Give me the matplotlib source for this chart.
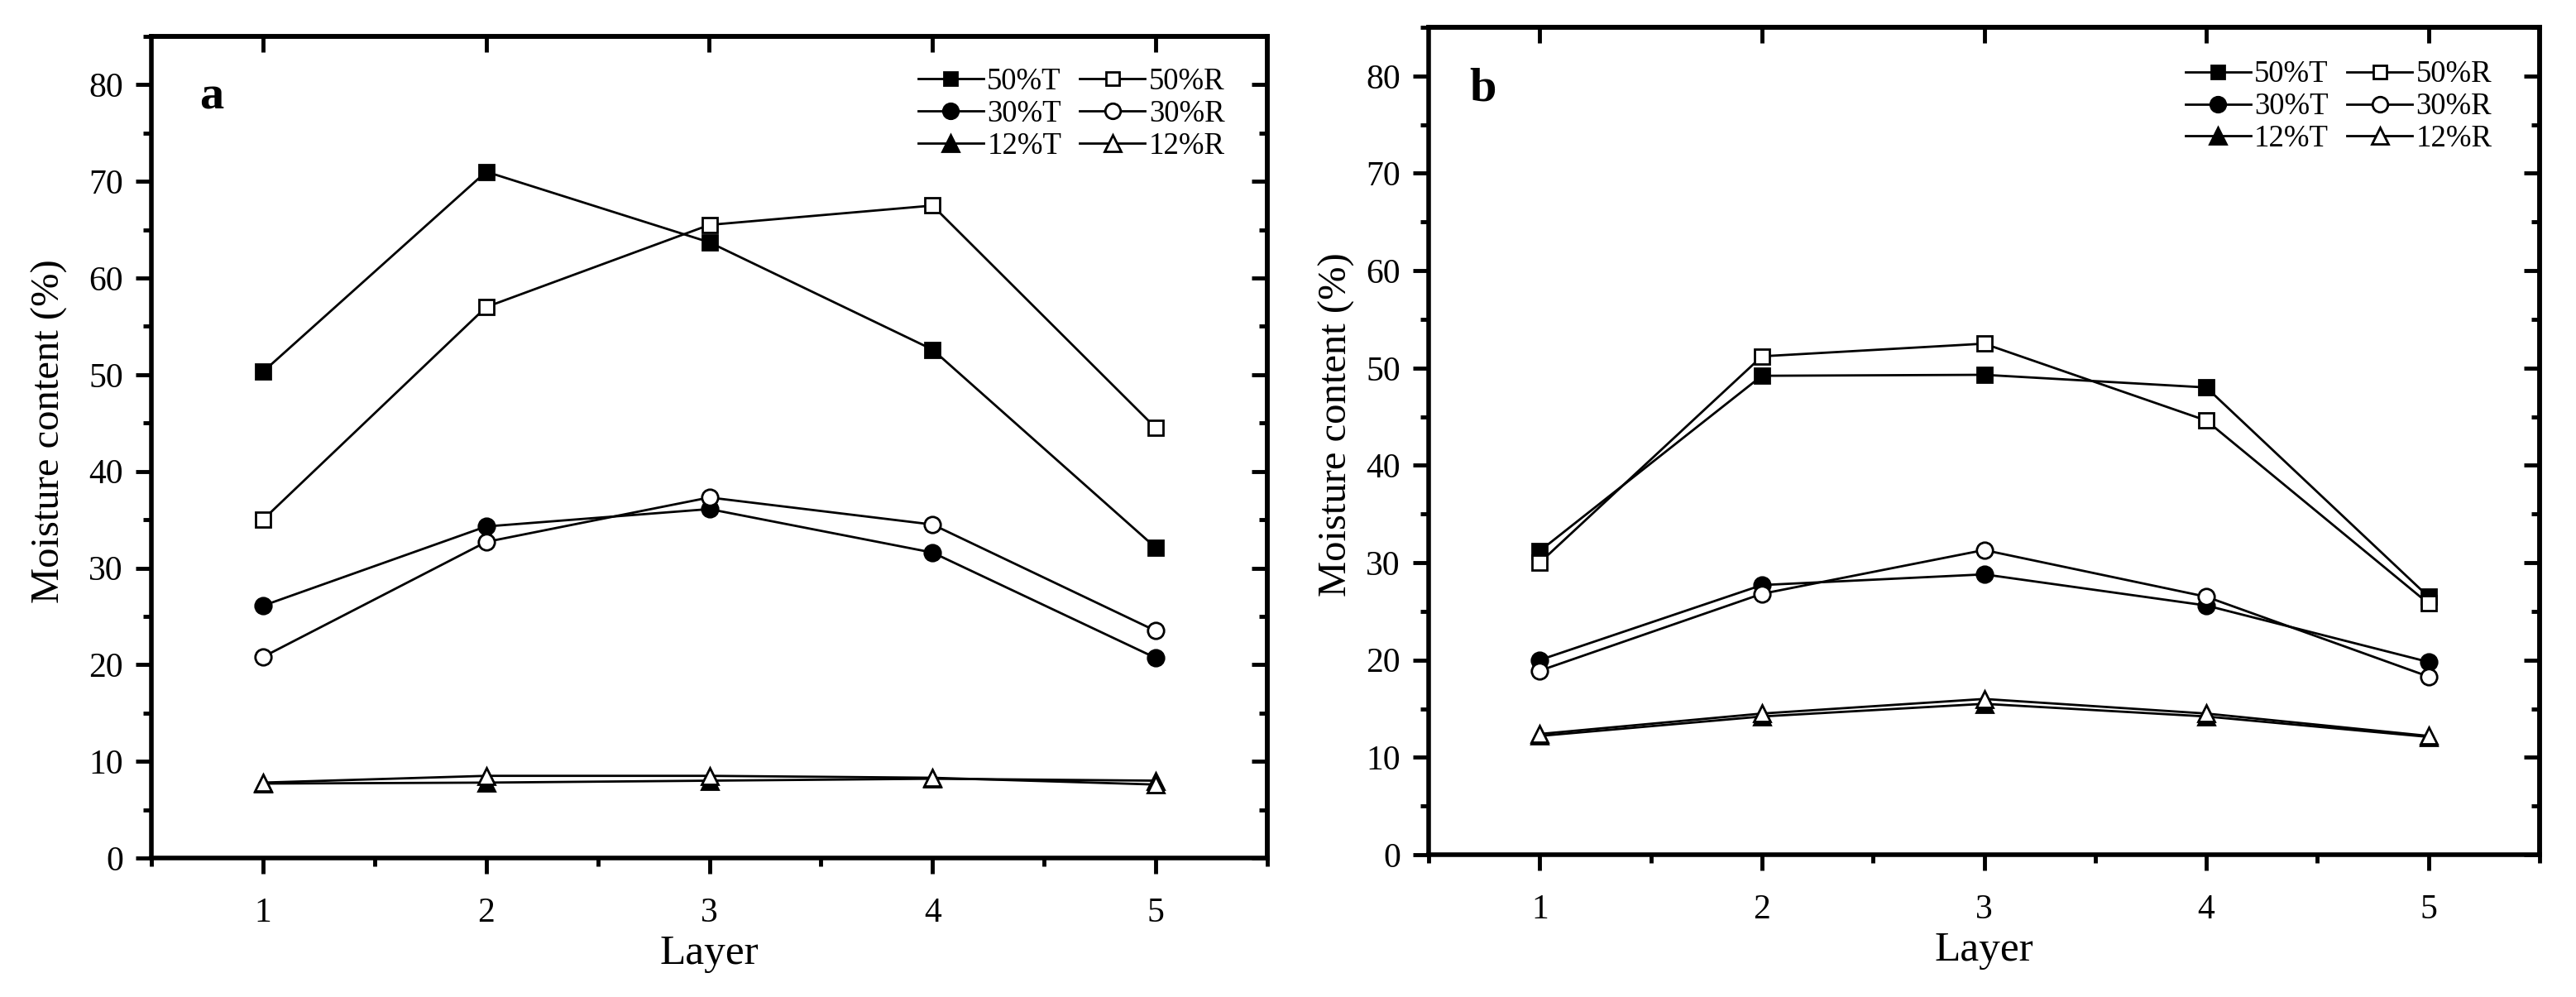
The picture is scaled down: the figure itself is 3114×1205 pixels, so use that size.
import matplotlib
matplotlib.use("Agg")
import matplotlib.pyplot as plt
from matplotlib.ticker import MultipleLocator, NullLocator

plt.rcParams['font.family'] = ['Liberation Serif', 'DejaVu Serif']

layers = [1, 2, 3, 4, 5]

# Panel a
a_50T = [50.3, 71.0, 63.7, 52.6, 32.1]
a_50R = [35.0, 57.0, 65.5, 67.5, 44.5]
a_30T = [26.1, 34.3, 36.1, 31.6, 20.7]
a_30R = [20.8, 32.7, 37.3, 34.5, 23.5]
a_12T = [7.7, 7.8, 8.0, 8.2, 8.0]
a_12R = [7.8, 8.5, 8.5, 8.3, 7.6]

# Panel b
b_50T = [31.2, 49.2, 49.3, 48.0, 26.5]
b_50R = [30.0, 51.2, 52.5, 44.6, 25.8]
b_30T = [20.0, 27.7, 28.8, 25.6, 19.8]
b_30R = [18.9, 26.8, 31.3, 26.5, 18.3]
b_12T = [12.2, 14.2, 15.5, 14.2, 12.1]
b_12R = [12.4, 14.5, 16.0, 14.5, 12.2]

labels_T = ['50%T', '30%T', '12%T']
labels_R = ['50%R', '30%R', '12%R']
markers = ['s', 'o', '^']
msizes = [12.5, 14, 14.5]

W, H = 3114, 1205
fig = plt.figure(figsize=(W / 100, H / 100), dpi=100)

def px_axes(x0, x1, ytop, ybot):
    return fig.add_axes([x0 / W, 1 - ybot / H, (x1 - x0) / W, (ybot - ytop) / H])

ax_a = px_axes(183, 1532, 44, 1037)
ax_b = px_axes(1727, 3070, 33, 1033)

LW = 2.0
MEW = 2.0
SPW = 4.0

def style(ax, letter, letter_x, ylab_x, ylab_y):
    ax.set_xlim(0.5, 5.5)
    ax.set_ylim(0, 85)
    ax.set_xticks(layers)
    ax.set_yticks(range(0, 81, 10))
    ax.xaxis.set_minor_locator(MultipleLocator(0.5))
    ax.yaxis.set_minor_locator(MultipleLocator(5))
    ax.tick_params(axis='both', which='major', direction='out', length=13.5, width=3.5,
                   labelsize=30, top=False, right=False)
    ax.tick_params(axis='both', which='minor', direction='out', length=7, width=3.5,
                   top=False, right=False)
    ax.tick_params(axis='x', which='major', pad=21)
    ax.tick_params(axis='y', which='major', pad=11)
    for s in ax.spines.values():
        s.set_linewidth(SPW)
    sx = ax.secondary_xaxis('top')
    sx.set_xticks(layers)
    sx.xaxis.set_minor_locator(NullLocator())
    sx.tick_params(direction='in', length=13.5, width=3.5, labeltop=False)
    sx.spines['top'].set_linewidth(SPW)
    sy = ax.secondary_yaxis('right')
    sy.set_yticks(range(0, 81, 10))
    sy.yaxis.set_minor_locator(MultipleLocator(5))
    sy.tick_params(which='major', direction='in', length=13.5, width=3.5, labelright=False)
    sy.tick_params(which='minor', direction='in', length=7, width=3.5, labelright=False)
    sy.spines['right'].set_linewidth(SPW)
    ax.set_xlabel('Layer', fontsize=37)
    ax.set_ylabel('Moisture content (%)', fontsize=35)
    ax.xaxis.set_label_coords(0.5, -0.093)
    ax.yaxis.set_label_coords(ylab_x, ylab_y)
    ax.text(letter_x, 78.7, letter, fontsize=42, fontweight='bold',
            ha='center', va='center')

def plot_panel(ax, T, R):
    handles_T, handles_R = [], []
    for vals, lab, m, ms in zip(T, labels_T, markers, msizes):
        h, = ax.plot(layers, vals, color='black', lw=LW, marker=m, ms=ms,
                     mfc='black', mec='black', mew=MEW, label=lab, zorder=3)
        handles_T.append(h)
    for vals, lab, m, ms in zip(R, labels_R, markers, msizes):
        h, = ax.plot(layers, vals, color='black', lw=LW, marker=m, ms=ms,
                     mfc='white', mec='black', mew=MEW, label=lab, zorder=4)
        handles_R.append(h)
    return handles_T + handles_R

hA = plot_panel(ax_a, [a_50T, a_30T, a_12T], [a_50R, a_30R, a_12R])
hB = plot_panel(ax_b, [b_50T, b_30T, b_12T], [b_50R, b_30R, b_12R])

style(ax_a, 'a', 0.77, -0.075, 0.52)
style(ax_b, 'b', 0.745, -0.066, 0.52)

def legend(ax, handles, anchor):
    return ax.legend(handles=handles, ncol=2, loc='upper left', bbox_to_anchor=anchor,
                     frameon=False, fontsize=26.5, handlelength=2.15, handletextpad=0.12,
                     columnspacing=0.6, labelspacing=0.12, borderpad=0, borderaxespad=0,
                     markerscale=0.95)

legend(ax_a, hA, (0.687, 0.962))
legend(ax_b, hB, (0.681, 0.960))

fig.savefig('out.png', dpi=100)
